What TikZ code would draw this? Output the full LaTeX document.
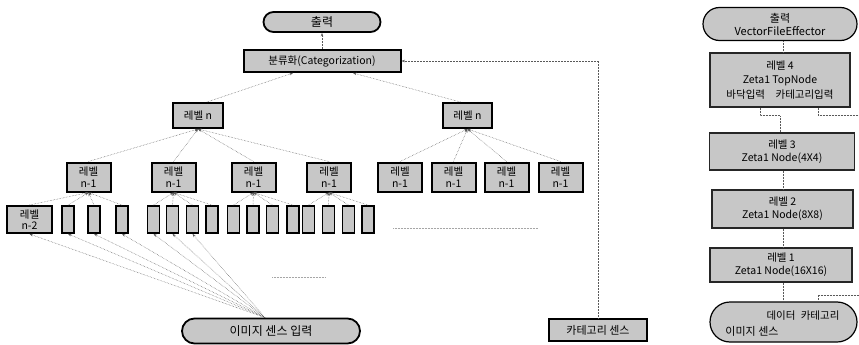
\documentclass[tikz,border=0pt]{standalone}
\usepackage{fontspec}
\setmainfont{Noto Sans CJK KR}
\usetikzlibrary{arrows.meta,shapes.misc}
\definecolor{fillg}{gray}{0.78}
\definecolor{lineg}{gray}{0.35}
\tikzset{
  lbox/.style={draw=black, line width=2pt, fill=fillg, inner sep=0pt, align=center,
     font=\fontsize{10.5}{11.5}\selectfont, minimum width=#1},
  lbox/.default=44pt,
  sbox/.style={draw=black, line width=1.8pt, fill=fillg, inner sep=0pt, minimum width=12pt, minimum height=27pt},
  rbox/.style={draw=black!85, line width=1.1pt, fill=fillg, inner sep=0pt, align=center,
     font=\fontsize{10.5}{13}\selectfont},
  stad/.style={rounded rectangle, draw=black, line width=1.8pt, fill=fillg, inner sep=0pt, align=center,
     font=\fontsize{12}{13}\selectfont},
  conn/.style={draw=lineg, line width=0.5pt, densely dotted},
  arr/.style={conn, -{Stealth[length=3.5pt,width=2.5pt]}},
  faint/.style={draw=gray!70, line width=0.5pt, densely dotted}
}
\begin{document}
\begin{tikzpicture}[x=1pt,y=-1pt]
\useasboundingbox (0,0) rectangle (859,345);
% ---------- left diagram ----------
\node[stad, minimum width=117pt, minimum height=20pt] (out) at (322,22) {출력};
\node[lbox=157pt, minimum height=22pt, font=\fontsize{10.5}{11}\selectfont] (cat) at (322,61) {분류화(Categorization)};
\node[lbox=50pt, minimum height=25pt] (LnA) at (198,115.5) {레벨 n};
\node[lbox=49pt, minimum height=25pt] (LnB) at (467.5,115.5) {레벨 n};
% level n-1
\foreach \x [count=\i] in {88.5,173.5,253.5,329,400,453.5,506.5,560.5}
  \node[lbox=44pt, minimum height=29pt] (M\i) at (\x,177) {레벨\\n-1};
% level n-2
\node[lbox=45pt, minimum height=27pt] (S0) at (29.5,219.5) {레벨\\n-2};
\foreach \x [count=\i] in {68,94,122,153.5,172.5,192.5,212,233.5,253,272.5,293,308.5,328.5,348.5,368}
  \node[sbox] (S\i) at (\x,219.5) {};
% bottom nodes
\node[stad, minimum width=178pt, minimum height=25pt] (img) at (271,331) {이미지 센스 입력};
\node[lbox=98pt, minimum height=22pt, font=\fontsize{11}{12}\selectfont] (cs) at (598,330) {카테고리 센스};
% connectors
\draw[arr] (cat.north) -- (out.south);
\draw[arr] ([xshift=9pt]LnA.north) -- ([xshift=-29pt]cat.south);
\draw[arr] ([xshift=-7pt]LnB.north) -- ([xshift=31pt]cat.south);
\foreach \i in {1,2,3,4} \draw[arr] (M\i.north) -- (LnA.south);
\foreach \i in {5,6,7,8} \draw[arr] (M\i.north) -- (LnB.south);
\foreach \i in {0,1,2,3} \draw[arr] (S\i.north) -- (M1.south);
\foreach \i in {4,5,6,7} \draw[arr] (S\i.north) -- (M2.south);
\foreach \i in {8,9,10,11} \draw[arr] (S\i.north) -- (M3.south);
\foreach \i in {12,13,14,15} \draw[arr] (S\i.north) -- (M4.south);
\foreach \i in {0,1,2,3,4,5,6} \draw[arr] ([xshift=-6pt]img.north) -- (S\i.south);
\draw[arr] (cs.north) |- (cat.east);
% ellipsis marks
\coordinate (e1a) at (393,228); \coordinate (e1b) at (538,228);
\coordinate (e2a) at (272,277); \coordinate (e2b) at (325,277);
\draw[faint] (e1a) -- (e1b);
\draw[faint] (e2a) -- (e2b);
% ---------- right diagram ----------
\node[stad, line width=1.2pt, minimum width=154pt, minimum height=33pt, font=\fontsize{11}{13}\selectfont] (R0) at (780,24) {출력\\VectorFileEffector};
\node[rbox, minimum width=140pt, minimum height=54pt, font=\fontsize{10.5}{14.5}\selectfont] (R4) at (780,80) {레벨 4\\Zeta1 TopNode\\바닥입력\quad 카테고리입력};
\node[rbox, minimum width=145pt, minimum height=37pt] (R3) at (782,151.5) {레벨 3\\Zeta1 Node(4X4)};
\node[rbox, minimum width=141pt, minimum height=38pt] (R2) at (782.5,209) {레벨 2\\Zeta1 Node(8X8)};
\node[rbox, minimum width=142pt, minimum height=34pt] (R1) at (781,265) {레벨 1\\Zeta1 Node(16X16)};
\node[stad, line width=1.2pt, minimum width=147pt, minimum height=40pt] (RB) at (783.5,322) {};
\node[font=\fontsize{10.5}{11}\selectfont, inner sep=0pt] (RBa) at (803,316) {데이터\enspace 카테고리};
\node[font=\fontsize{11}{12}\selectfont, inner sep=0pt] (RBb) at (752,331) {이미지 센스};
\coordinate (edgeA) at (859,115);
\coordinate (edgeB) at (859,295);
\draw[conn] ([xshift=3pt]R0.south) -- ([xshift=3pt]R4.north);
\draw[conn] ([xshift=-20pt]R4.south) -- ++(0,8) -| ([xshift=-2pt]R3.north);
\draw[conn] ([xshift=38pt]R4.south) |- (edgeA);
\draw[conn] ([xshift=1pt]R3.south) -- ([xshift=0.5pt]R2.north);
\draw[conn] ([xshift=0.5pt]R2.south) -- ([xshift=2pt]R1.north);
\draw[conn] ([xshift=2pt]R1.south) -- ([xshift=-0.5pt]RB.north);
\draw[conn] ([xshift=34.5pt]RB.north) |- (edgeB);
\end{tikzpicture}
\end{document}
